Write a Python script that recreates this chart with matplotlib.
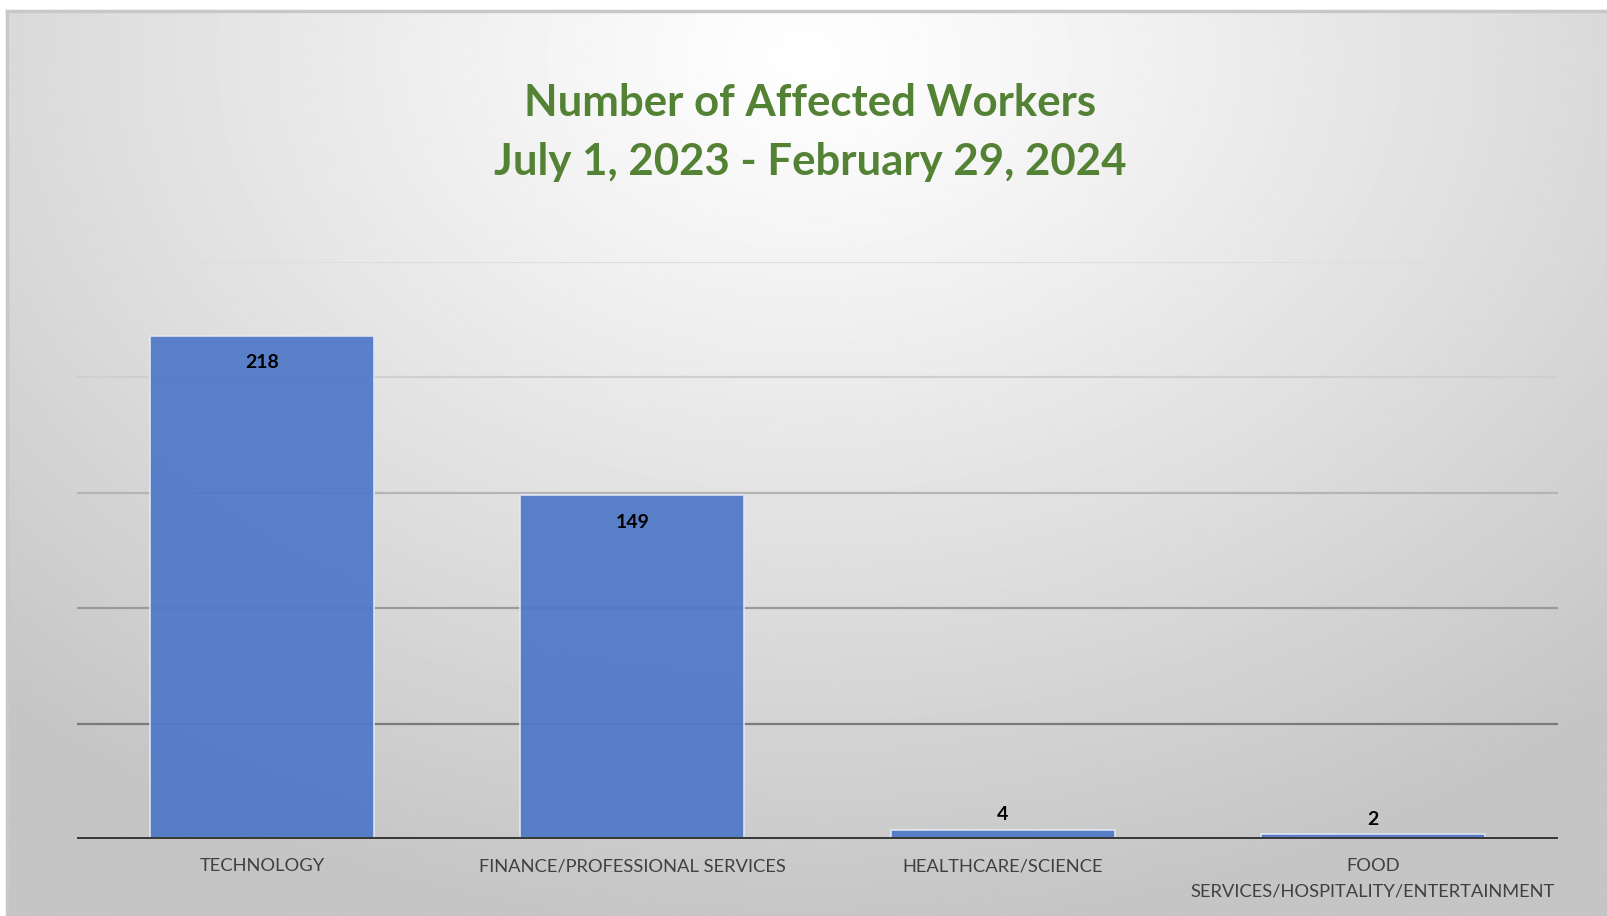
import numpy as np
import matplotlib.pyplot as plt

categories = ['TECHNOLOGY', 'FINANCE/PROFESSIONAL SERVICES', 'HEALTHCARE/SCIENCE',
              'FOOD\nSERVICES/HOSPITALITY/ENTERTAINMENT']
workers = [218, 149, 4, 2]
grid_levels = [50, 100, 150, 200, 250]
grid_colors = ['#7a7a7a', '#9a9a9a', '#b5b5b5', '#cfcfcf', '#dedede']

plt.rcParams['font.family'] = ['Lato', 'DejaVu Sans']

W, H = 1608, 916
fig = plt.figure(figsize=(W / 100, H / 100), dpi=100)
fig.patch.set_facecolor('white')

# soft radial gradient behind the chart, brightest near the top middle
bg = fig.add_axes([7 / W, 0, 1 - 7 / W, (H - 11) / H])
yy, xx = np.mgrid[0:400, 0:800]
cx, cy = 400, 20
d = np.sqrt(((xx - cx) / 800) ** 2 + ((yy - cy) / 520) ** 2)
shade = 1.0 - 0.23 * np.clip(d / 0.75, 0, 1) ** 1.1
bg.imshow(shade, cmap='gray', vmin=0, vmax=1, aspect='auto',
          extent=[0, 1, 0, 1], origin='upper', interpolation='bilinear')
bg.set_xlim(0, 1)
bg.set_ylim(0, 1)
bg.axis('off')
bg.plot([0, 1], [1, 1], color='#c8c8c8', lw=2.5, transform=bg.transAxes, clip_on=False)
bg.plot([0, 0], [0, 1], color='#c8c8c8', lw=2.5, transform=bg.transAxes, clip_on=False)

ax = fig.add_axes([77 / W, 1 - 839 / H, (1558 - 77) / W, (839 - 262) / H])
ax.patch.set_alpha(0)
x = np.arange(len(categories))
ax.set_xlim(-0.5, len(categories) - 0.5)
ax.set_ylim(0, 250)

for lvl, col in zip(grid_levels, grid_colors):
    ax.axhline(lvl, color=col, lw=1.6, zorder=1)

bars = ax.bar(x, workers, width=0.605, color='#4f78c8', alpha=0.93,
              edgecolor='#e4e9f3', linewidth=1.2, zorder=2)
ax.axhline(0, color='#3a3a3a', lw=3.6, zorder=3)

for xi, v in zip(x, workers):
    off = -27 if v > 20 else 15
    ax.annotate(str(v), (xi, v), xytext=(0, off), textcoords='offset pixels',
                ha='center', va='center', fontsize=14, fontweight='bold',
                color='black', zorder=4)

ax.set_xticks(x)
ax.set_xticklabels(categories, fontsize=13.2, color='#404040', linespacing=1.7)
ax.tick_params(axis='x', length=0, pad=14)
ax.set_yticks([])
for s in ax.spines.values():
    s.set_visible(False)

fig.text(810 / W, 1 - 103 / H, 'Number of Affected Workers', ha='center', va='center',
         fontsize=31.5, fontweight='bold', color='#548235')
fig.text(810 / W, 1 - 162 / H, 'July 1, 2023 - February 29, 2024', ha='center', va='center',
         fontsize=31.5, fontweight='bold', color='#548235')

fig.savefig('out.png', dpi=100, facecolor=fig.get_facecolor())
